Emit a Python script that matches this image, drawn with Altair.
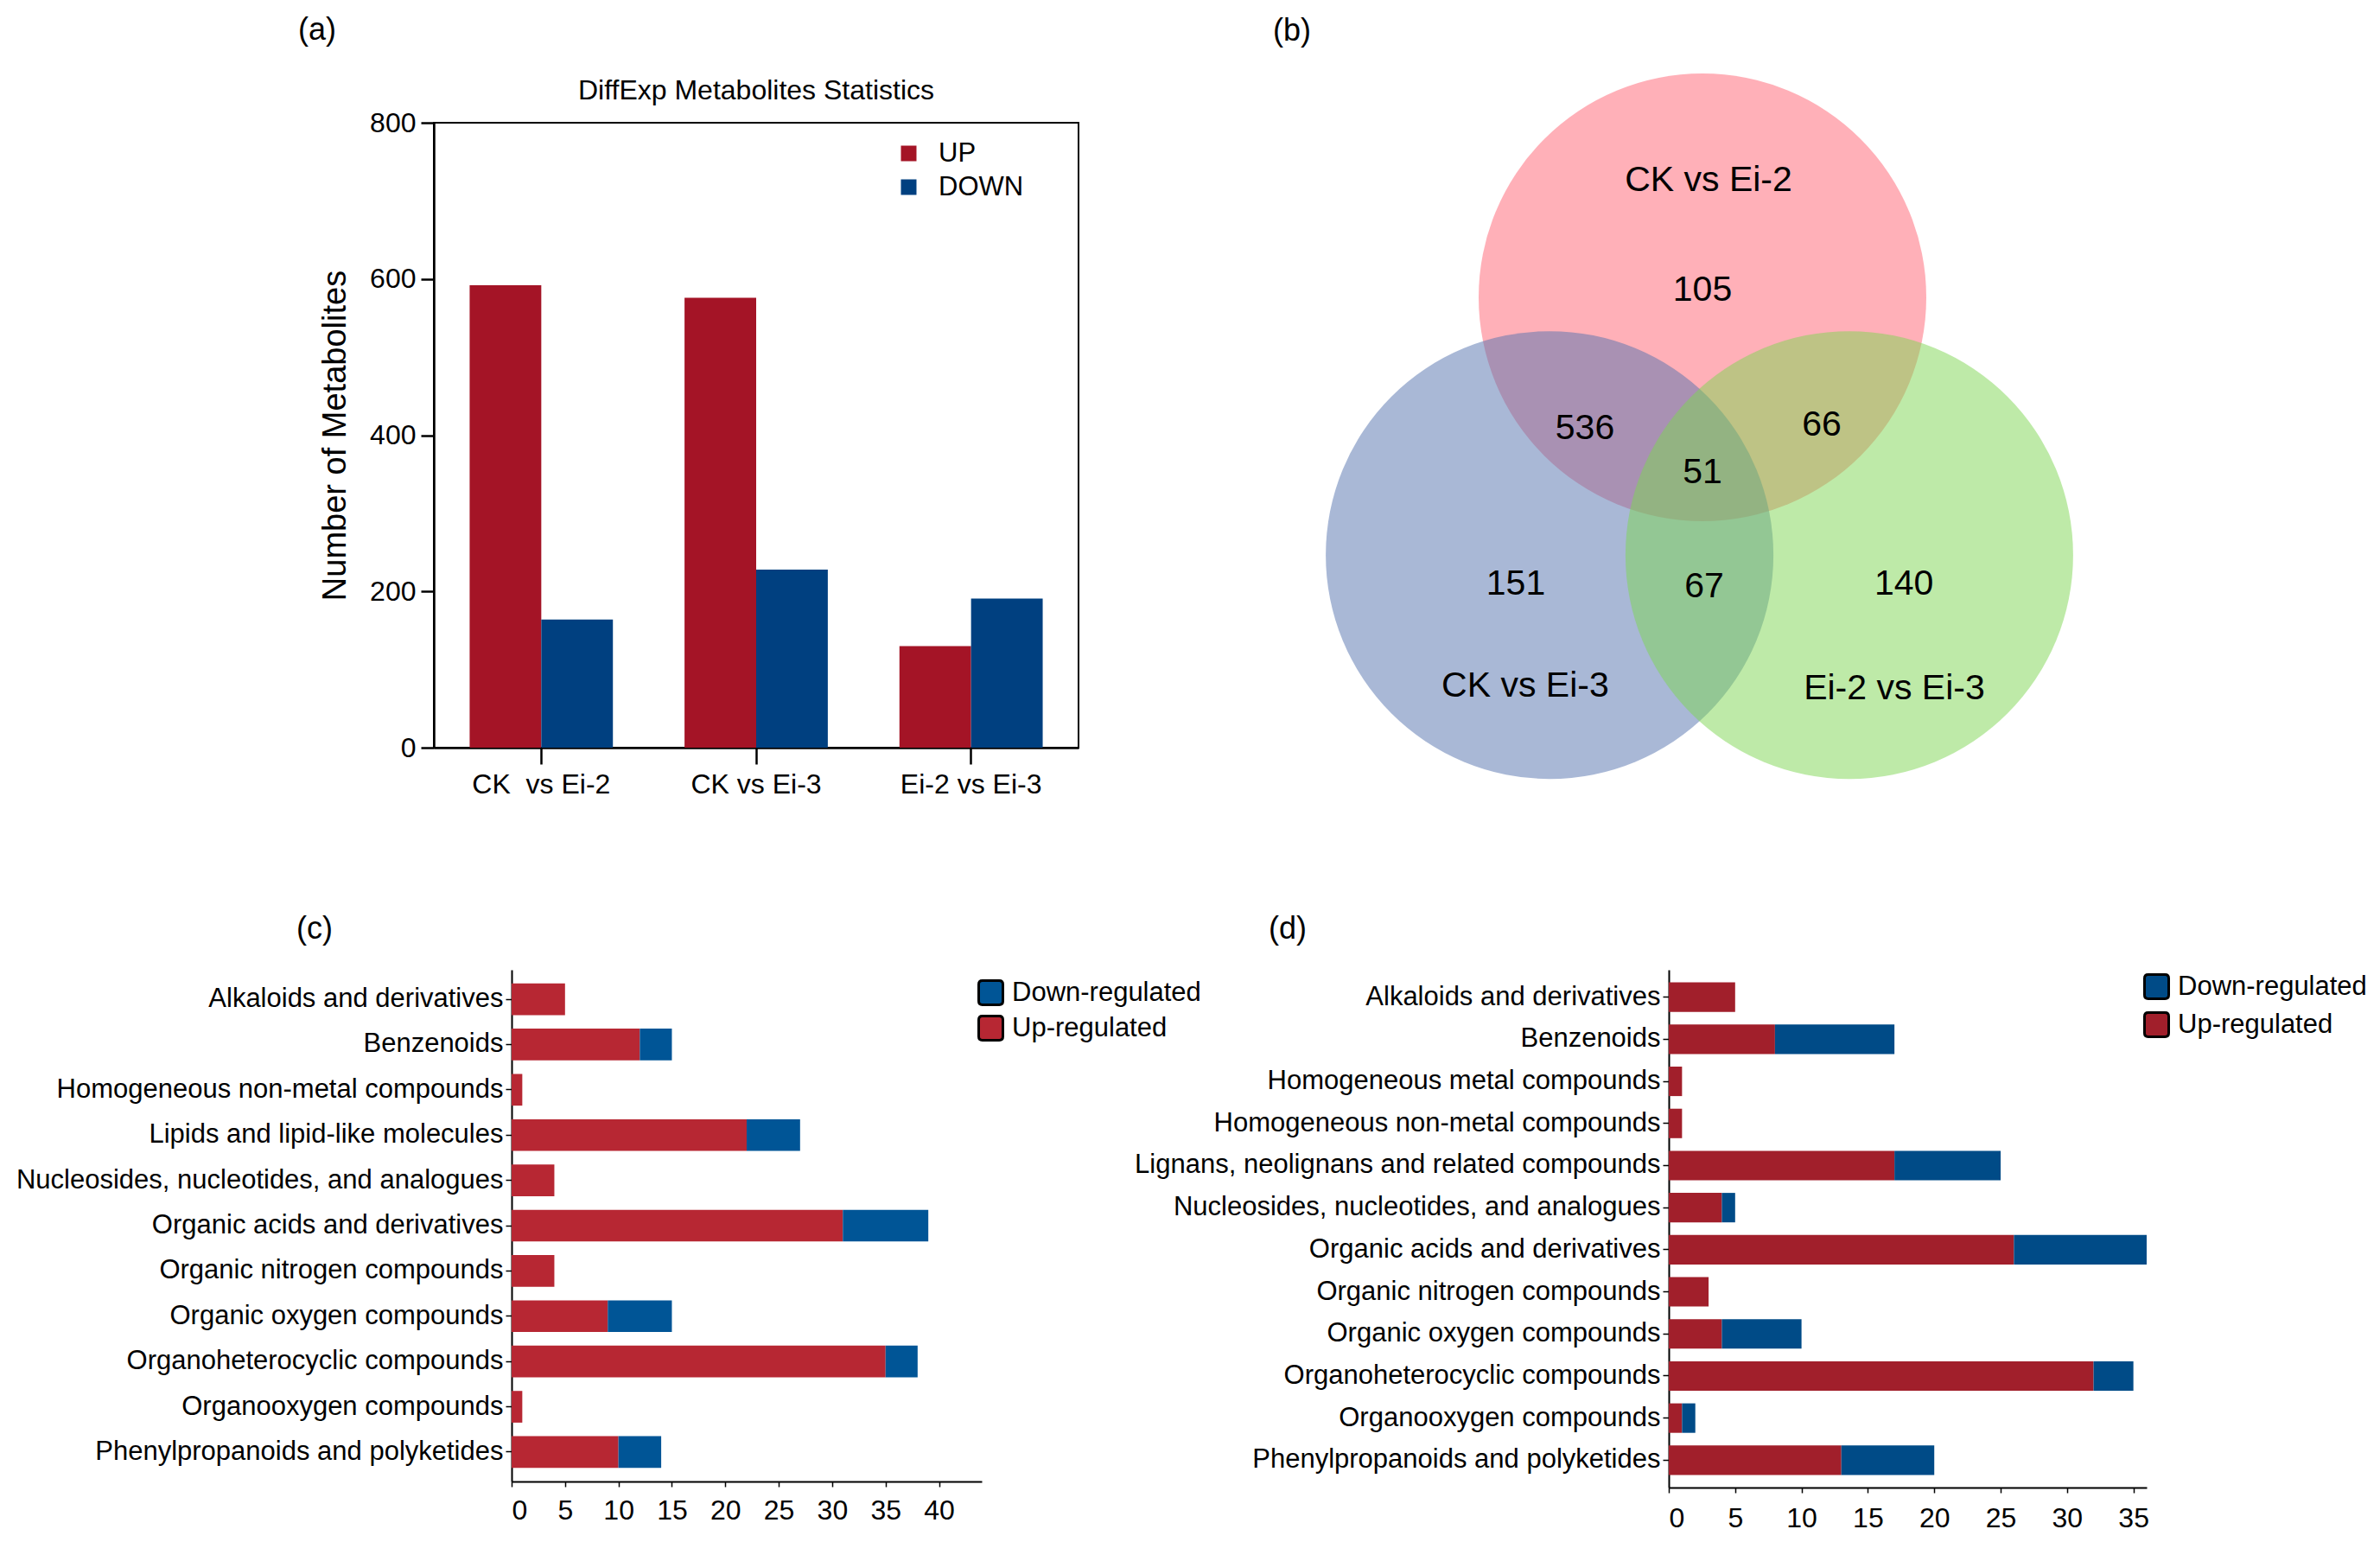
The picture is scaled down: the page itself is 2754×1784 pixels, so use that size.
import altair as alt
import pandas as pd

FONT = "Liberation Sans"

# ---------------- data ----------------
# (a) DiffExp Metabolites Statistics
groups_a = ["CK\u00a0 vs Ei-2", "CK vs Ei-3", "Ei-2 vs Ei-3"]
up_a = [592, 576, 130]
down_a = [164, 228, 191]
dirs_a = ["UP", "DOWN"]
colors_a = ["#A41426", "#004080"]

# (b) Venn diagram
venn_sets = ["CK vs Ei-2", "CK vs Ei-3", "Ei-2 vs Ei-3"]
venn_fill = ["#FF6171", "#5371AD", "#7DD551"]
venn_region_counts = ["105", "536", "66", "51", "151", "67", "140"]

# (c)
cats_c = ["Alkaloids and derivatives", "Benzenoids", "Homogeneous non-metal compounds",
          "Lipids and lipid-like molecules", "Nucleosides, nucleotides, and analogues",
          "Organic acids and derivatives", "Organic nitrogen compounds",
          "Organic oxygen compounds", "Organoheterocyclic compounds",
          "Organooxygen compounds", "Phenylpropanoids and polyketides"]
up_c = [5, 12, 1, 22, 4, 31, 4, 9, 35, 1, 10]
down_c = [0, 3, 0, 5, 0, 8, 0, 6, 3, 0, 4]
colors_c = ["#005596", "#B72733"]

# (d)
cats_d = ["Alkaloids and derivatives", "Benzenoids", "Homogeneous metal compounds",
          "Homogeneous non-metal compounds", "Lignans, neolignans and related compounds",
          "Nucleosides, nucleotides, and analogues", "Organic acids and derivatives",
          "Organic nitrogen compounds", "Organic oxygen compounds",
          "Organoheterocyclic compounds", "Organooxygen compounds",
          "Phenylpropanoids and polyketides"]
up_d = [5, 8, 1, 1, 17, 4, 26, 3, 4, 32, 1, 13]
down_d = [0, 9, 0, 0, 8, 1, 10, 0, 6, 3, 1, 7]
colors_d = ["#004B87", "#A11F2B"]

reg_names = ["Down-regulated", "Up-regulated"]
panel_labels = ["(a)", "(b)", "(c)", "(d)"]


# ---------------- helpers ----------------
def panel_label(txt, dx, dy):
    return alt.Chart(pd.DataFrame({"t": [txt]})).mark_text(
        fontSize=36, align="center", baseline="middle", color="black"
    ).encode(text="t:N", x=alt.value(dx), y=alt.value(dy))


def spacer(w, h, label=None, lx=0, ly=0):
    base = alt.Chart(pd.DataFrame({"s": [0]})).mark_rect(opacity=0).encode(
        x=alt.value(0), x2=alt.value(w), y=alt.value(0), y2=alt.value(h)
    )
    if label is None:
        return base.properties(width=w, height=h)
    return alt.layer(base, panel_label(label, lx, ly)).properties(width=w, height=h)


ROUNDED = ("M -0.7,-1 L 0.7,-1 Q 1,-1 1,-0.7 L 1,0.7 Q 1,1 0.7,1 L -0.7,1 "
           "Q -1,1 -1,0.7 L -1,-0.7 Q -1,-1 -0.7,-1 Z")

# ---------------- (a) ----------------
rows = []
for g, u, d in zip(groups_a, up_a, down_a):
    rows.append({"grp": g, "dir": "UP", "n": u})
    rows.append({"grp": g, "dir": "DOWN", "n": d})
df_a = pd.DataFrame(rows)

AW, AH = 746, 723
chart_a = alt.Chart(df_a).mark_bar().encode(
    x=alt.X("grp:N", sort=groups_a,
            scale=alt.Scale(paddingInner=0, paddingOuter=0),
            axis=alt.Axis(title=None, labelAngle=0, tickSize=19, tickWidth=2.5,
                          domainWidth=2.5, labelFontSize=32, labelPadding=8)),
    xOffset=alt.XOffset("dir:N", sort=dirs_a,
                        scale=alt.Scale(paddingInner=0, paddingOuter=0.5)),
    y=alt.Y("n:Q", scale=alt.Scale(domain=[0, 800], nice=False),
            axis=alt.Axis(values=[0, 200, 400, 600, 800], title="Number of  Metabolites",
                          titleFontSize=38, titleFontWeight="normal", titlePadding=20,
                          tickSize=15, tickWidth=2.5, domainWidth=2.5,
                          labelFontSize=32, labelPadding=6, grid=False)),
    color=alt.Color("dir:N", scale=alt.Scale(domain=dirs_a, range=colors_a),
                    legend=alt.Legend(title=None, orient="none", legendX=534, legendY=20,
                                      symbolType="square", symbolSize=324,
                                      symbolStrokeWidth=0, labelFontSize=31,
                                      rowPadding=7, labelOffset=19, padding=0,
                                      labelLimit=1000)),
).properties(
    width=AW, height=AH,
    title=alt.TitleParams("DiffExp Metabolites Statistics", fontSize=32,
                          fontWeight="normal", offset=4, anchor="middle", frame="group"),
    view=alt.ViewBackground(stroke="black", strokeWidth=2),
)

# ---------------- (b) Venn ----------------
R_PX = 259
VW, VH = 1036, 723
y_top = -0.78
xs = alt.Scale(domain=[-VW / (2 * R_PX), VW / (2 * R_PX)], nice=False, zero=False)
ys = alt.Scale(domain=[y_top, y_top + VH / R_PX], nice=False, zero=False, reverse=True)

venn_circles = pd.DataFrame({
    "set": venn_sets,
    "cx": [0.0, -0.683, 0.656],
    "cy": [0.0, 1.151, 1.151],
    "idx": [0, 1, 2],
})
venn_texts = pd.DataFrame({
    "t": [venn_sets[0]] + venn_region_counts + venn_sets[1:],
    "tx": [0.027, 0.0, -0.525, 0.533, 0.0, -0.834, 0.008, 0.9, -0.792, 0.857],
    "ty": [-0.521, -0.031, 0.587, 0.571, 0.784, 1.282, 1.293, 1.282, 1.737, 1.749],
})

circ = alt.Chart(venn_circles).mark_circle(size=(2 * R_PX) ** 2, opacity=0.5,
                                           strokeWidth=0).encode(
    x=alt.X("cx:Q", scale=xs, axis=None),
    y=alt.Y("cy:Q", scale=ys, axis=None),
    color=alt.Color("set:N", scale=alt.Scale(domain=venn_sets, range=venn_fill), legend=None),
    order=alt.Order("idx:Q"),
)
vtxt = alt.Chart(venn_texts).mark_text(fontSize=41, color="black", align="center",
                                       baseline="middle").encode(
    x=alt.X("tx:Q", scale=xs, axis=None),
    y=alt.Y("ty:Q", scale=ys, axis=None),
    text="t:N",
)
chart_b = alt.layer(circ, vtxt, panel_label(panel_labels[1], 43, -106)).properties(
    width=VW, height=VH)


# ---------------- (c), (d) ----------------
def stacked(cats, ups, downs, colors, xmax, xticks, w, h, lx, ly, rowpad, xpad):
    rr = []
    for c, u, d in zip(cats, ups, downs):
        if u > 0:
            rr.append({"cat": c, "reg": "Up-regulated", "v": u, "ord": 0})
        if d > 0:
            rr.append({"cat": c, "reg": "Down-regulated", "v": d, "ord": 1})
    df = pd.DataFrame(rr)
    return alt.Chart(df).mark_bar().encode(
        y=alt.Y("cat:N", sort=cats, scale=alt.Scale(paddingInner=0.3, paddingOuter=0.3),
                axis=alt.Axis(title=None, labelFontSize=31, labelLimit=1000, tickSize=7,
                              tickWidth=1.5, labelPadding=3, domainWidth=2)),
        x=alt.X("v:Q", stack="zero", scale=alt.Scale(domain=[0, xmax], nice=False),
                axis=alt.Axis(title=None, values=xticks, labelFontSize=32, tickSize=6,
                              tickWidth=1.5, labelPadding=xpad, domainWidth=2, grid=False)),
        color=alt.Color("reg:N", scale=alt.Scale(domain=reg_names, range=colors),
                        legend=alt.Legend(title=None, orient="none", legendX=lx, legendY=ly,
                                          symbolType=ROUNDED, symbolSize=784,
                                          symbolStrokeColor="black", symbolStrokeWidth=3,
                                          labelFontSize=31, rowPadding=rowpad,
                                          labelOffset=9, padding=0, labelLimit=1000)),
        order=alt.Order("ord:Q", sort="ascending"),
    ).properties(width=w, height=h)


chart_c = stacked(cats_c, up_c, down_c, colors_c, 44, list(range(0, 41, 5)),
                  544, 592, 539, 11, 0, 12)
chart_d = stacked(cats_d, up_d, down_d, colors_d, 36, list(range(0, 36, 5)),
                  553, 599, 549, 4, 3, 14)

# ---------------- layout ----------------
# rows: nested concats count as zero height in a flush vconcat, so the middle
# spacer spans row 1 plus the gap between rows.
row1 = alt.hconcat(spacer(494, 1, panel_labels[0], 359, -107), chart_a,
                   spacer(204, 1), chart_b, spacing=0, bounds="flush"
                   ).resolve_scale(color="independent")
row2 = alt.hconcat(spacer(584, 1, panel_labels[2], 356, -47), chart_c,
                   spacer(795, 1, panel_labels[3], 354, -47), chart_d,
                   spacing=0, bounds="flush").resolve_scale(color="independent")
chart = alt.vconcat(
    spacer(10, 134), row1, spacer(10, AH + 257), row2,
    spacing=0, bounds="flush", padding=0,
).resolve_scale(color="independent").configure(
    font=FONT
).configure_view(strokeWidth=0).configure_axis(
    domainColor="black", tickColor="black", labelColor="black", titleColor="black",
    labelFont=FONT, titleFont=FONT
).configure_legend(labelFont=FONT, labelColor="black").configure_text(font=FONT)

chart.save("out.html", embed_options={"renderer": "svg", "actions": False})
